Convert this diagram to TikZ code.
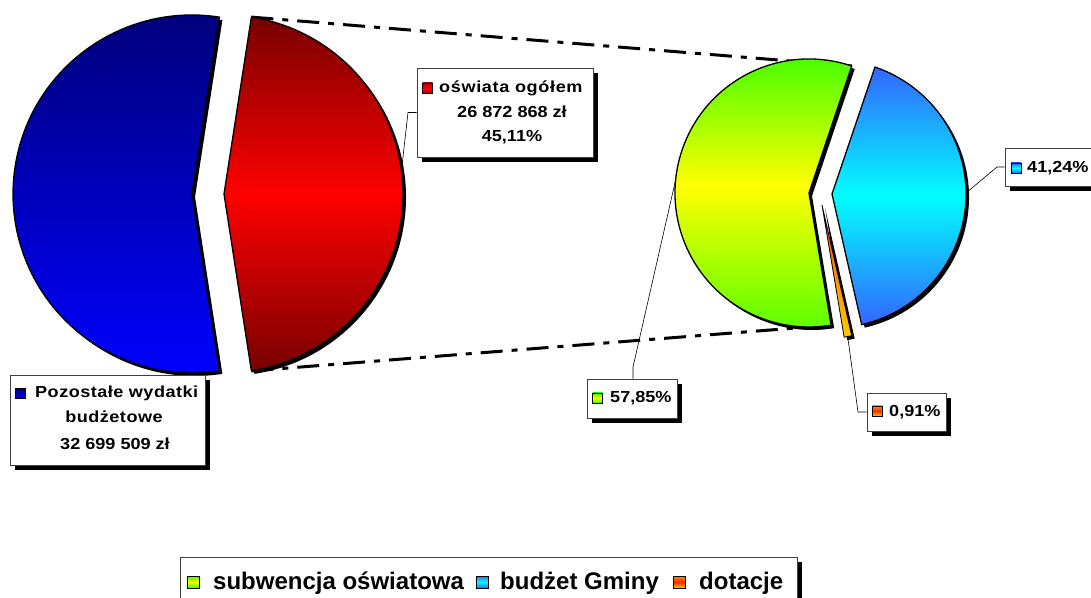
\documentclass[tikz,border=0pt]{standalone}
\usepackage{fontspec}
\setmainfont{Liberation Sans}
\usetikzlibrary{shadows}
\definecolor{navyA}{RGB}{0,0,120}
\definecolor{blueB}{RGB}{0,0,255}
\definecolor{darkredA}{RGB}{120,0,0}
\definecolor{redB}{RGB}{255,0,0}
\definecolor{greenA}{RGB}{51,255,0}
\definecolor{yellowB}{RGB}{255,255,0}
\definecolor{cyanA}{RGB}{51,102,255}
\definecolor{cyanB}{RGB}{0,255,255}
\definecolor{orA}{RGB}{255,40,0}
\definecolor{orB}{RGB}{255,140,0}
\definecolor{orC}{RGB}{255,200,0}
\newcommand{\lblfont}{\fontsize{16}{16}\selectfont\bfseries\addfontfeature{FakeStretch=1.13}}
\newcommand{\legfont}{\fontsize{24}{24}\selectfont\bfseries}
\begin{document}
\begin{tikzpicture}[x=1pt,y=1pt,
  sliceedge/.style={draw=black, line width=1.3pt, line join=round},
  lbl/.style={font=\lblfont, inner sep=0pt},
  leg/.style={font=\legfont, inner sep=0pt, anchor=base west},
  box/.style={draw=black!75, line width=0.8pt, fill=white, inner sep=0pt,
    drop shadow={shadow xshift=5pt, shadow yshift=-5pt, fill=black, opacity=1}},
  leader/.style={draw=black, line width=0.6pt},
  mkr/.style={draw=black, line width=0.8pt, minimum size=10pt, inner sep=0pt},
  lmkr/.style={draw=black, line width=0.8pt, minimum size=12pt, inner sep=0pt},
  zoomline/.style={line width=3pt, dash pattern=on 22pt off 9pt on 6pt off 9pt}
]
\useasboundingbox (0,0) rectangle (1091,597);

% connecting dash-dot lines
\coordinate (rtop) at (251.4,579.9);
\coordinate (rbot) at (251.4,226.1);
\coordinate (gtop) at (851.7,531);
\coordinate (gbot) at (831.1,271.8);
\draw[zoomline] (rtop) -- (gtop);
\draw[zoomline] (rbot) -- (gbot);

% ---- left pie ----
\fill[black] (195,400) -- +(81.2:179) arc[start angle=81.2,end angle=278.8,radius=179] -- cycle;
\fill[black] (227,400) -- +(-81.2:179) arc[start angle=-81.2,end angle=81.2,radius=179] -- cycle;
\path[sliceedge, top color=navyA, bottom color=blueB]
  (192,403) -- +(81.2:179) arc[start angle=81.2,end angle=278.8,radius=179] -- cycle;
\path[sliceedge, top color=darkredA, bottom color=darkredA, middle color=redB]
  (224,403) -- +(-81.2:179) arc[start angle=-81.2,end angle=81.2,radius=179] -- cycle;

% ---- right pie ----
\fill[black] (812,401) -- +(71.4:134) arc[start angle=71.4,end angle=279.5,radius=134] -- cycle;
\fill[black] (835,400) -- +(-77.2:134) arc[start angle=-77.2,end angle=71.3,radius=134] -- cycle;
\fill[black] (825,389) -- +(-80.5:134) arc[start angle=-80.5,end angle=-77.2,radius=134] -- cycle;
\path[sliceedge, top color=greenA, bottom color=greenA!80!yellowB, middle color=yellowB]
  (809,404) -- +(71.4:134) arc[start angle=71.4,end angle=279.5,radius=134] -- cycle;
\path[sliceedge, top color=cyanA, bottom color=cyanA, middle color=cyanB]
  (832,403) -- +(-77.2:134) arc[start angle=-77.2,end angle=71.3,radius=134] -- cycle;
\path[draw=black, line width=0.8pt, top color=orA, bottom color=orC, middle color=orB]
  (822,392) -- +(-80.5:134) arc[start angle=-80.5,end angle=-77.2,radius=134] -- cycle;

% ---- label boxes ----
\node[box, minimum width=176pt, minimum height=89pt] (redbox) at (505,484.5) {};
\node[box, minimum width=195pt, minimum height=90pt] (bluebox) at (107.5,177) {};
\node[box, minimum width=92pt, minimum height=38pt] (cyanbox) at (1051,430) {};
\node[box, minimum width=90pt, minimum height=39pt] (greenbox) at (632,198.5) {};
\node[box, minimum width=79pt, minimum height=38pt] (orbox) at (906.5,185) {};
\node[box, minimum width=617pt, minimum height=50pt] (legbox) at (488.5,15) {};

% ---- leaders ----
\coordinate (rl1) at (401.5,427);
\coordinate (rl2) at (408,484.5);
\draw[leader] (rl1) -- (rl2) -- (redbox.west);
\coordinate (bl1) at (205,225);
\draw[leader] (bl1) -- (bluebox.north -| bl1);
\coordinate (cl1) at (966,404);
\coordinate (cl2) at (997,430);
\draw[leader] (cl1) -- (cl2) -- (cyanbox.west);
\coordinate (gl1) at (675.6,417);
\coordinate (gl2) at (633,230);
\draw[leader] (gl1) -- (gl2) -- (greenbox.north -| gl2);
\coordinate (ol1) at (848,258);
\coordinate (ol2) at (858,185);
\draw[leader] (ol1) -- (ol2) -- (orbox.west);

% ---- label texts ----
\node[mkr, top color=darkredA!60!redB, bottom color=darkredA!60!redB, middle color=redB] (rm) at (427.5,509) {};
\node[lbl, anchor=base west] (rt1) at (439,504) {\addfontfeature{LetterSpace=4}oświata ogółem};
\node[lbl, anchor=base] (rt2) at (512,479) {26 872 868 zł};
\node[lbl, anchor=base] (rt3) at (512,455) {45,11\%};

\node[mkr, top color=navyA, bottom color=blueB] (bm) at (20,203.5) {};
\node[lbl, anchor=base west] (bt1) at (35,199) {\addfontfeature{LetterSpace=3}Pozostałe wydatki};
\node[lbl, anchor=base] (bt2) at (114,174) {\addfontfeature{LetterSpace=3}budżetowe};
\node[lbl, anchor=base] (bt3) at (115,147) {32 699 509 zł};

\node[mkr, top color=cyanA, bottom color=cyanA, middle color=cyanB] (cm) at (1016,429) {};
\node[lbl, anchor=base west] (ct) at (1027,424) {41,24\%};

\node[mkr, top color=greenA, bottom color=greenA, middle color=yellowB] (gm) at (597.5,199) {};
\node[lbl, anchor=base west] (gt) at (610,194) {57,85\%};

\node[mkr, top color=orB, bottom color=orC, middle color=orA] (om) at (877,186) {};
\node[lbl, anchor=base west] (ot) at (889,180) {0,91\%};

% ---- legend ----
\node[lmkr, top color=greenA, bottom color=greenA, middle color=yellowB] (lg1) at (193.5,15) {};
\node[leg] (lt1) at (213,8) {subwencja oświatowa};
\node[lmkr, top color=cyanA, bottom color=cyanA, middle color=cyanB] (lg2) at (482,15) {};
\node[leg] (lt2) at (500,8) {budżet Gminy};
\node[lmkr, top color=orB, bottom color=orC, middle color=orA] (lg3) at (679.5,15) {};
\node[leg] (lt3) at (699,8) {dotacje};
\end{tikzpicture}
\end{document}
